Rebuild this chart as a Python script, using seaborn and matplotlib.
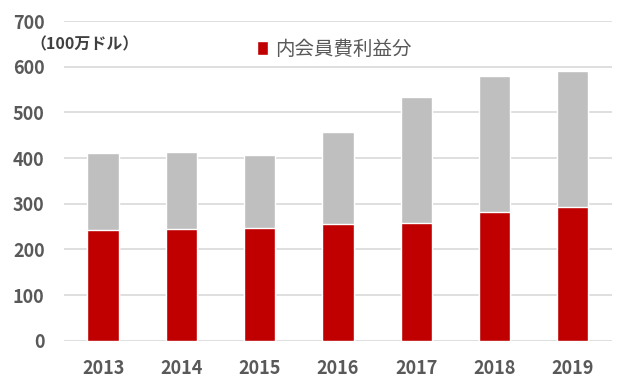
import matplotlib
matplotlib.use("Agg")
import matplotlib.pyplot as plt
import seaborn as sns
import pandas as pd

years = ["2013", "2014", "2015", "2016", "2017", "2018", "2019"]
member_fee_profit = [242, 245, 248, 256, 259, 283, 293]
total_profit = [412, 414, 406, 457, 534, 579, 591]
legend_label = "内会員費利益分"
unit_label = "（100万ドル）"

df = pd.DataFrame({"year": years, "member": member_fee_profit, "total": total_profit})

sns.set_theme(style="white")
plt.rcParams["font.family"] = ["Noto Sans CJK JP", "DejaVu Sans"]

fig = plt.figure(figsize=(6.4, 3.83), dpi=100)
ax = fig.add_axes([0.1, 0.11, 0.856, 0.835])

sns.barplot(data=df, x="year", y="total", color="#BFBFBF", width=0.4,
            saturation=1, ax=ax, zorder=2)
sns.barplot(data=df, x="year", y="member", color="#C00000", width=0.4,
            saturation=1, ax=ax, zorder=3, label=legend_label)

ax.set_ylim(0, 700)
ax.set_yticks(range(0, 701, 100))
ax.yaxis.grid(True, color="#D9D9D9", linewidth=1.2, zorder=0)
ax.set_axisbelow(True)
for s in ax.spines.values():
    s.set_visible(False)
ax.set_xlabel("")
ax.set_ylabel("")
ax.tick_params(axis="both", length=0, labelsize=13, colors="#595959")
for lbl in ax.get_xticklabels() + ax.get_yticklabels():
    lbl.set_fontweight("bold")
ax.tick_params(axis="y", pad=14)
ax.tick_params(axis="x", pad=13)

leg = ax.legend(loc="upper left", bbox_to_anchor=(0.32, 1.0), frameon=False,
                fontsize=14, handlelength=0.55, handleheight=0.75, handletextpad=0.4,
                labelcolor="#595959")

fig.text(0.048, 0.885, unit_label, fontsize=11.5, fontweight="bold", color="#404040",
         ha="left", va="center")

fig.savefig("out.png", dpi=100)
